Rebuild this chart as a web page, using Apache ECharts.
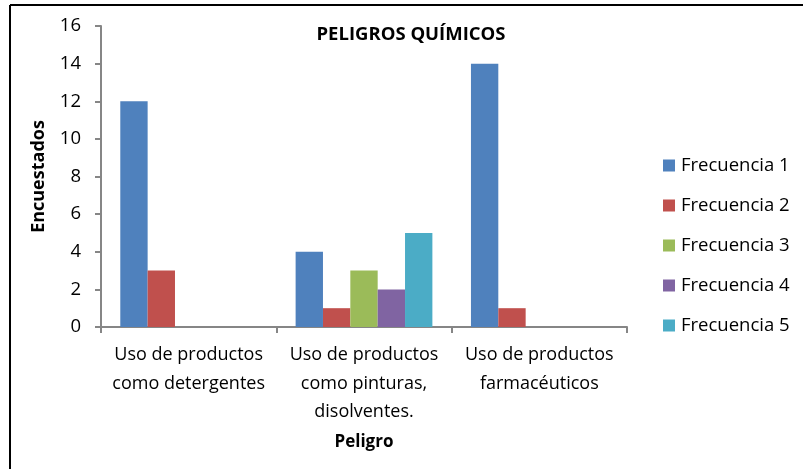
<!DOCTYPE html>
<html>
<head>
<meta charset="utf-8">
<script src="https://cdn.jsdelivr.net/npm/echarts@6/dist/echarts.min.js"></script>
<style>
  html, body { margin: 0; padding: 0; background: #fff; }
  #chart { width: 803px; height: 469px; }
</style>
</head>
<body>
<div id="chart"></div>
<script>
var categories = ['Uso de productos\ncomo detergentes', 'Uso de productos\ncomo pinturas,\ndisolventes.', 'Uso de productos\nfarmacéuticos'];
var frecuencia1 = [12, 4, 14];
var frecuencia2 = [3, 1, 1];
var frecuencia3 = [0, 3, 0];
var frecuencia4 = [0, 2, 0];
var frecuencia5 = [0, 5, 0];
var seriesNames = ['Frecuencia 1', 'Frecuencia 2', 'Frecuencia 3', 'Frecuencia 4', 'Frecuencia 5'];
var colors = ['#4F81BD', '#C0504D', '#9BBB59', '#8064A2', '#4BACC6'];
var yTicks = [0, 2, 4, 6, 8, 10, 12, 14, 16];

var font = 'Open Sans';
var myChart = echarts.init(document.getElementById('chart'));

var allData = [frecuencia1, frecuencia2, frecuencia3, frecuencia4, frecuencia5];
var series = allData.map(function (d, i) {
  return {
    name: seriesNames[i],
    type: 'bar',
    data: d,
    barGap: '0%',
    barCategoryGap: '22%',
    itemStyle: { color: colors[i] }
  };
});

var option = {
  backgroundColor: '#fff',
  color: colors,
  animation: false,
  title: {
    text: 'PELIGROS QUÍMICOS',
    left: 406,
    top: 20,
    textAlign: 'center',
    textStyle: { fontFamily: font, fontWeight: 'bold', fontSize: 18.5, color: '#000' }
  },
  legend: {
    orient: 'vertical',
    left: 663,
    top: 156,
    padding: 0,
    itemWidth: 12,
    itemHeight: 12,
    itemGap: 21,
    icon: 'rect',
    textStyle: { fontFamily: font, fontSize: 18.5, color: '#000', padding: [0, 0, 0, 1] },
    data: seriesNames
  },
  grid: { left: 101, top: 26, right: 176, bottom: 142 },
  xAxis: {
    type: 'category',
    data: categories,
    name: 'Peligro',
    nameLocation: 'middle',
    nameGap: 107,
    nameTextStyle: { fontFamily: font, fontWeight: 'bold', fontSize: 17, color: '#000' },
    axisLine: { lineStyle: { color: '#868686', width: 2 } },
    axisTick: { show: true, length: 6, lineStyle: { color: '#868686', width: 2 } },
    axisLabel: { interval: 0, margin: 14, fontFamily: font, fontSize: 18, color: '#000', lineHeight: 28.5 }
  },
  yAxis: {
    type: 'value',
    min: yTicks[0],
    max: yTicks[yTicks.length - 1],
    interval: yTicks[1] - yTicks[0],
    name: 'Encuestados',
    nameLocation: 'middle',
    nameGap: 53,
    nameRotate: 90,
    nameTextStyle: { fontFamily: font, fontWeight: 'bold', fontSize: 18, color: '#000' },
    axisLine: { show: true, lineStyle: { color: '#868686', width: 2 } },
    axisTick: { show: true, length: 6, lineStyle: { color: '#868686', width: 2 } },
    splitLine: { show: false },
    axisLabel: { margin: 20, fontFamily: font, fontSize: 18.5, color: '#000' }
  },
  graphic: [
    { type: 'line', shape: { x1: 10, y1: 5, x2: 803, y2: 5 }, style: { stroke: '#000', lineWidth: 2 } },
    { type: 'line', shape: { x1: 10, y1: 5, x2: 10, y2: 469 }, style: { stroke: '#000', lineWidth: 2 } }
  ],
  series: series
};
myChart.setOption(option);
</script>
</body>
</html>
